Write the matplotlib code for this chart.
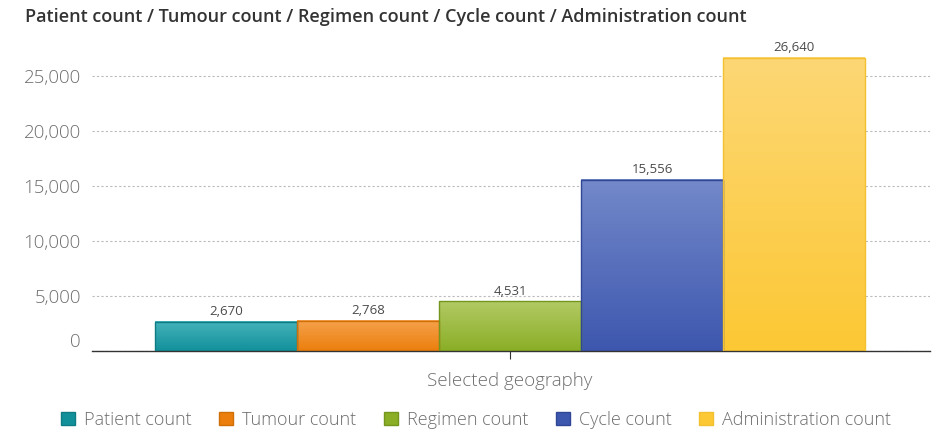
import matplotlib
matplotlib.use("Agg")
import matplotlib.pyplot as plt
import matplotlib.transforms as mtransforms
import numpy as np
from matplotlib.colors import LinearSegmentedColormap
from matplotlib.patches import Patch

categories = ["Patient count", "Tumour count", "Regimen count", "Cycle count", "Administration count"]
values = [2670, 2768, 4531, 15556, 26640]
top_colors = ["#45b3bb", "#f5a24c", "#b2ca64", "#7389ca", "#fdd775"]
bottom_colors = ["#12909a", "#eb7e0c", "#8aae26", "#3d57ae", "#fcc834"]
edge_colors = ["#0e7c84", "#d06f08", "#74961c", "#2f4795", "#f2c030"]
yticks = [0, 5000, 10000, 15000, 20000, 25000]
xlabel = "Selected geography"
title = "Patient count / Tumour count / Regimen count / Cycle count / Administration count"

plt.rcParams['font.family'] = ['Open Sans', 'DejaVu Sans']

fig = plt.figure(figsize=(9.4, 4.3), dpi=100)
ax = fig.add_axes([92/940, 1-351/430, (930-92)/940, (351-43)/430])

n = len(values)
bw = 142/838
xs = (np.arange(n) - (n-1)/2) * bw
ax.set_xlim((92-510)/838, (930-510)/838)
ax.set_ylim(0, 28000)

bars = ax.bar(xs, values, width=bw, color="none", edgecolor=edge_colors, linewidth=1.0, zorder=3)
for b, tc, bc in zip(bars, top_colors, bottom_colors):
    x0, y0 = b.get_x(), b.get_y()
    w, h = b.get_width(), b.get_height()
    cmap = LinearSegmentedColormap.from_list("g", [bc, tc])
    grad = np.linspace(0, 1, 256).reshape(-1, 1)
    ax.imshow(grad, extent=[x0, x0 + w, y0, y0 + h], origin="lower", aspect="auto",
              cmap=cmap, zorder=2)

for x, v in zip(xs, values):
    ax.annotate(f"{v:,}", (x, v), xytext=(0, 2.5), textcoords="offset points",
                ha="center", va="bottom", fontsize=9.5, color="#4a4a4a")

text_gray = "#6e6e6e"
ax.set_yticks(yticks)
ax.set_yticklabels([f"{t:,}" for t in yticks], fontsize=13.5, color=text_gray, fontweight="light")
ax.yaxis.grid(True, linestyle=(0, (2, 2)), color="#bbbbbb", linewidth=0.8, zorder=0)
ax.set_axisbelow(True)
ax.tick_params(axis="y", length=0, pad=8)
# zero label sits slightly above the baseline
zlab = ax.get_yticklabels()[0]
zlab.set_transform(zlab.get_transform() + mtransforms.ScaledTranslation(0, 11/100, fig.dpi_scale_trans))

ax.set_xticks([0])
ax.set_xticklabels([xlabel], fontsize=13.5, color=text_gray, fontweight="light")
ax.tick_params(axis="x", length=6, color="#333333", pad=9)
for s in ["top", "right", "left"]:
    ax.spines[s].set_visible(False)
ax.spines["bottom"].set_color("#333333")
ax.spines["bottom"].set_linewidth(1.0)

fig.text(25/940, 1-17/430, title, fontsize=13, fontweight="semibold", color="#333333",
         ha="left", va="center")

handles = [Patch(facecolor=bc, edgecolor=ec, label=c) for c, bc, ec in zip(categories, bottom_colors, edge_colors)]
fig.legend(handles=handles, loc="center", bbox_to_anchor=(476/940, 1-420/430), ncol=5,
           frameon=False, prop={"size": 13, "weight": "light"}, handlelength=0.75, handleheight=0.75,
           handletextpad=0.5, columnspacing=1.55, labelcolor=text_gray)

fig.savefig("out.png", dpi=100)
